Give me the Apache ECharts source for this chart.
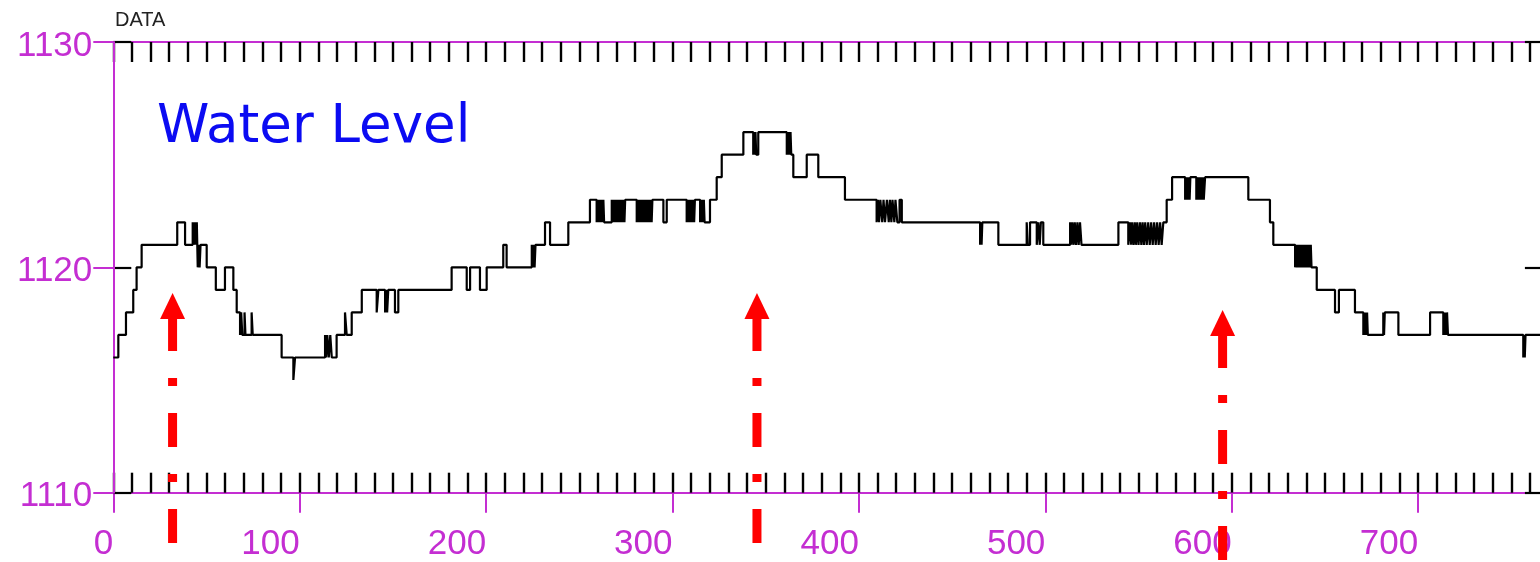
<!DOCTYPE html>
<html><head><meta charset="utf-8">
<script src="https://cdn.jsdelivr.net/npm/echarts@6/dist/echarts.min.js"></script>
<style>html,body{margin:0;padding:0;background:#fff}#c{width:1540px;height:562px}</style>
</head><body><div id="c"></div><script>
// Water level readings as change points: [sample index, level]; level holds until next point
const levelSteps = [
[0,1116],[2.7,1117],[6.8,1118],[10.7,1119],[12.5,1120],[15.2,1121],
[34.3,1122],[38.5,1121],[42.6,1122],[43.3,1121],[43.8,1122],[44.4,1121],[44.8,1122],[45.3,1120],[45.9,1121],[46.3,1120],[46.8,1121],
[50.1,1120],[55,1119],[59.9,1120],[64.4,1119],[66.2,1118],[68,1117],[68.6,1118],[69.2,1117],[70.4,1118],[70.9,1117],[74.2,1118],[74.8,1117],
[90.3,1116],[96.6,1115],[97.5,1116],
[113.6,1117],[114.2,1116],[114.8,1117],[115.6,1116],[116.4,1117],[117.2,1116],[119.8,1117],[124.3,1118],[125.2,1117],[127.9,1118],[133.3,1119],
[141.3,1118],[142.2,1119],[145.8,1118],[146.5,1119],[146.9,1118],[147.5,1119],[151.1,1118],[152.9,1119],
[181.5,1120],[189.6,1119],[191.4,1120],[196.7,1119],[200.3,1120],[209.2,1121],[211,1120],[224.5,1121],[225,1120],[225.5,1121],[226,1120],[226.5,1121],
[231.6,1122],[234.3,1121],[244.1,1122],[255.7,1123],
[259.3,1122],[259.7,1123],[260.1,1122],[260.5,1123],[260.9,1122],[261.3,1123],[261.7,1122],[262.1,1123],[262.5,1122],[262.9,1123],[263.3,1122],
[267.4,1123],[267.8,1122],[268.2,1123],[268.6,1122],[269,1123],[269.4,1122],[269.8,1123],[270.2,1122],[270.6,1123],[271,1122],[271.4,1123],[271.8,1122],[272.2,1123],[272.6,1122],[273,1123],[273.4,1122],[273.8,1123],[274.2,1122],[274.6,1123],
[280.8,1122],[281.2,1123],[281.6,1122],[282,1123],[282.4,1122],[282.8,1123],[283.2,1122],[283.6,1123],[284,1122],[284.4,1123],[284.8,1122],[285.2,1123],[285.6,1122],[286,1123],[286.4,1122],[286.8,1123],[287.2,1122],[287.6,1123],[288,1122],[288.4,1123],[288.8,1122],[289.2,1123],
[295.1,1122],[296.9,1123],
[307.6,1122],[308,1123],[308.4,1122],[308.8,1123],[309.2,1122],[309.6,1123],[310,1122],[310.4,1123],[310.8,1122],[311.2,1123],[311.6,1122],[312,1123],
[314.8,1122],[315.2,1123],[315.6,1122],[316,1123],[316.4,1122],[316.8,1123],[317.2,1122],[320.1,1123],[323.7,1124],[326.4,1125],[338,1126],
[343.3,1125],[343.7,1126],[344.1,1125],[344.5,1126],[344.9,1125],[346,1126],
[361.3,1125],[361.7,1126],[362.1,1125],[362.5,1126],[362.9,1125],[363.3,1126],[363.7,1125],[364.8,1124],[372,1125],[378.2,1124],[392.5,1123],
[409.5,1122],[410.2,1123],[410.8,1122],[411.5,1123],[412.5,1122],[413.2,1123],[414,1122],[415,1123],[416,1122],[416.6,1123],[417.4,1122],[418,1123],[419,1122],[419.6,1123],[420.6,1122],[421.8,1123],[423,1122],
[465,1121],[465.4,1122],[465.8,1121],[466.2,1122],[466.8,1122],[474.8,1121],
[490,1122],[490.6,1121],[491.8,1122],[495.4,1121],[496.2,1122],[497,1121],[497.6,1122],[498.9,1121],
[513.3,1122],[513.9,1121],[514.5,1122],[515.2,1121],[515.8,1122],[516.5,1121],[517.2,1122],[517.9,1121],[518.6,1122],[519.4,1121],
[539.2,1122],[544.5,1121],
[545.4,1122],[546,1121],[546.6,1122],[547.3,1121],[548,1122],[548.6,1121],[549.3,1122],[550,1121],[550.8,1122],[551.5,1121],[552.2,1122],[552.9,1121],[553.6,1122],[554.4,1121],[555.2,1122],[556,1121],[556.8,1122],[557.6,1121],[558.4,1122],[559.2,1121],[560,1122],[560.8,1121],[561.6,1122],[562.4,1121],
[563.3,1122],[565.1,1123],[568,1124],
[575,1123],[575.4,1124],[575.8,1123],[576.2,1124],[576.6,1123],[577,1124],[577.4,1123],[577.8,1124],
[581,1123],[581.4,1124],[581.8,1123],[582.2,1124],[582.6,1123],[583,1124],[583.4,1123],[583.8,1124],[584.2,1123],[584.6,1124],[585,1123],[585.7,1124],
[608.9,1123],[620.5,1122],[622.3,1121],
[634,1120],[634.4,1121],[634.8,1120],[635.2,1121],[635.6,1120],[636,1121],[636.4,1120],[636.8,1121],[637.2,1120],[637.6,1121],[638,1120],[638.4,1121],[638.8,1120],[639.2,1121],[639.6,1120],[640,1121],[640.4,1120],[640.8,1121],[641.2,1120],[641.6,1121],[642,1120],[642.4,1121],[642.8,1120],
[645.6,1119],[655.4,1118],[657.5,1119],[666.1,1118],
[670.6,1117],[671,1118],[671.4,1117],[671.8,1118],[672.2,1117],[672.6,1118],[673,1117],
[681.3,1118],[681.7,1117],[682.1,1118],[682.5,1118],[689.4,1117],[706.4,1118],
[713.5,1117],[713.9,1118],[714.3,1117],[714.7,1118],[715.1,1117],[715.5,1118],[716,1117],
[756.4,1116],[756.8,1117],[757.2,1116],[757.6,1117],[768,1117]
];
const xRange = [0, 768];
const yRange = [1110, 1130];
const minorStep = 10;
const majorStep = 100;
const yStep = 10;
// red annotation arrows: position along x, bottom and tip level
const arrowX = [31.8, 345.3, 595.1];
const arrowBottom = [1107.77, 1107.77, 1107.01];
const arrowTip = [1118.86, 1118.86, 1118.11];
const titleText = 'Water Level';
const cornerText = 'DATA';

const MAG = '#c42ed2';
const chart = echarts.init(document.getElementById('c'), null, {renderer: 'canvas'});
const baseX = {type: 'value', min: xRange[0], max: xRange[1], splitLine: {show: false}};
const baseY = {type: 'value', min: yRange[0], max: yRange[1], interval: yStep, splitLine: {show: false}};
const option = {
  animation: false,
  backgroundColor: '#fff',
  grid: {left: 113.3, top: 42, width: 1431.6, height: 450.7, containLabel: false, outerBoundsMode: 'none'},
  xAxis: [
    Object.assign({}, baseX, {position: 'bottom', interval: minorStep, z: 0,
      axisLine: {show: true, onZero: false, lineStyle: {color: MAG, width: 2}},
      axisTick: {show: true, inside: true, length: 20, lineStyle: {color: '#000', width: 2.4}},
      axisLabel: {show: false}}),
    Object.assign({}, baseX, {position: 'bottom', interval: majorStep, z: 0,
      axisLine: {show: false, onZero: false},
      axisTick: {show: true, inside: false, length: 20, lineStyle: {color: MAG, width: 2}},
      axisLabel: {show: true, color: MAG, fontSize: 35, fontFamily: 'Liberation Sans', align: 'right', margin: 34,
        hideOverlap: false, showMinLabel: true, showMaxLabel: true,
        formatter: v => (v % majorStep === 0 ? String(v) : '')}}),
    Object.assign({}, baseX, {position: 'top', interval: minorStep, z: 0,
      axisLine: {show: true, onZero: false, lineStyle: {color: MAG, width: 2}},
      axisTick: {show: true, inside: true, length: 20, lineStyle: {color: '#000', width: 2.4}},
      axisLabel: {show: false}})
  ],
  yAxis: [
    Object.assign({}, baseY, {position: 'left', z: 2,
      axisLine: {show: true, onZero: false, lineStyle: {color: MAG, width: 2}},
      axisTick: {show: true, inside: false, length: 20, lineStyle: {color: MAG, width: 2}},
      axisLabel: {show: true, color: MAG, fontSize: 35, fontFamily: 'Liberation Sans', margin: 21,
        verticalAlign: 'top', lineHeight: 8,
        formatter: v => String(v)}}),
    Object.assign({}, baseY, {position: 'left', z: 1,
      axisLine: {show: false, onZero: false},
      axisTick: {show: true, inside: true, length: 18, lineStyle: {color: '#000', width: 2.2}},
      axisLabel: {show: false}}),
    Object.assign({}, baseY, {position: 'right', z: 1,
      axisLine: {show: false, onZero: false},
      axisTick: {show: true, inside: true, length: 20, lineStyle: {color: '#000', width: 2.2}},
      axisLabel: {show: false}})
  ],
  series: [{
    type: 'line', xAxisIndex: 0, yAxisIndex: 0, step: 'end',
    data: levelSteps, showSymbol: false, symbol: 'none', z: 3,
    lineStyle: {color: '#000', width: 2.2}, sampling: null
  }],
  graphic: [
    {type: 'text', x: 115, y: 10, z: 100, style: {text: cornerText, fontSize: 20, fontFamily: 'Liberation Sans', fill: '#222', align: 'left', verticalAlign: 'top'}},
    {type: 'text', x: 157, y: 128, z: 100, style: {text: titleText, fontSize: 53, fontFamily: 'DejaVu Sans', fill: '#0b0bf2', align: 'left', verticalAlign: 'middle'}}
  ]
};
chart.setOption(option);

const HEAD_LEN = 26, HEAD_HALF = 12.5;
const arrowGraphics = [];
arrowX.forEach((x, i) => {
  const pb = chart.convertToPixel({xAxisIndex: 0, yAxisIndex: 0}, [x, arrowBottom[i]]);
  const pt = chart.convertToPixel({xAxisIndex: 0, yAxisIndex: 0}, [x, arrowTip[i]]);
  const px = pb[0];
  arrowGraphics.push({type: 'line', z: 100, shape: {x1: px, y1: pb[1], x2: px, y2: pt[1] + HEAD_LEN},
    style: {stroke: '#ff0000', lineWidth: 9, lineDash: [34, 27, 8, 27], lineCap: 'butt'}});
  arrowGraphics.push({type: 'polygon', z: 100, shape: {points: [[px, pt[1]], [px - HEAD_HALF, pt[1] + HEAD_LEN], [px + HEAD_HALF, pt[1] + HEAD_LEN]]},
    style: {fill: '#ff0000'}});
});
chart.setOption({graphic: option.graphic.concat(arrowGraphics)});
</script></body></html>
